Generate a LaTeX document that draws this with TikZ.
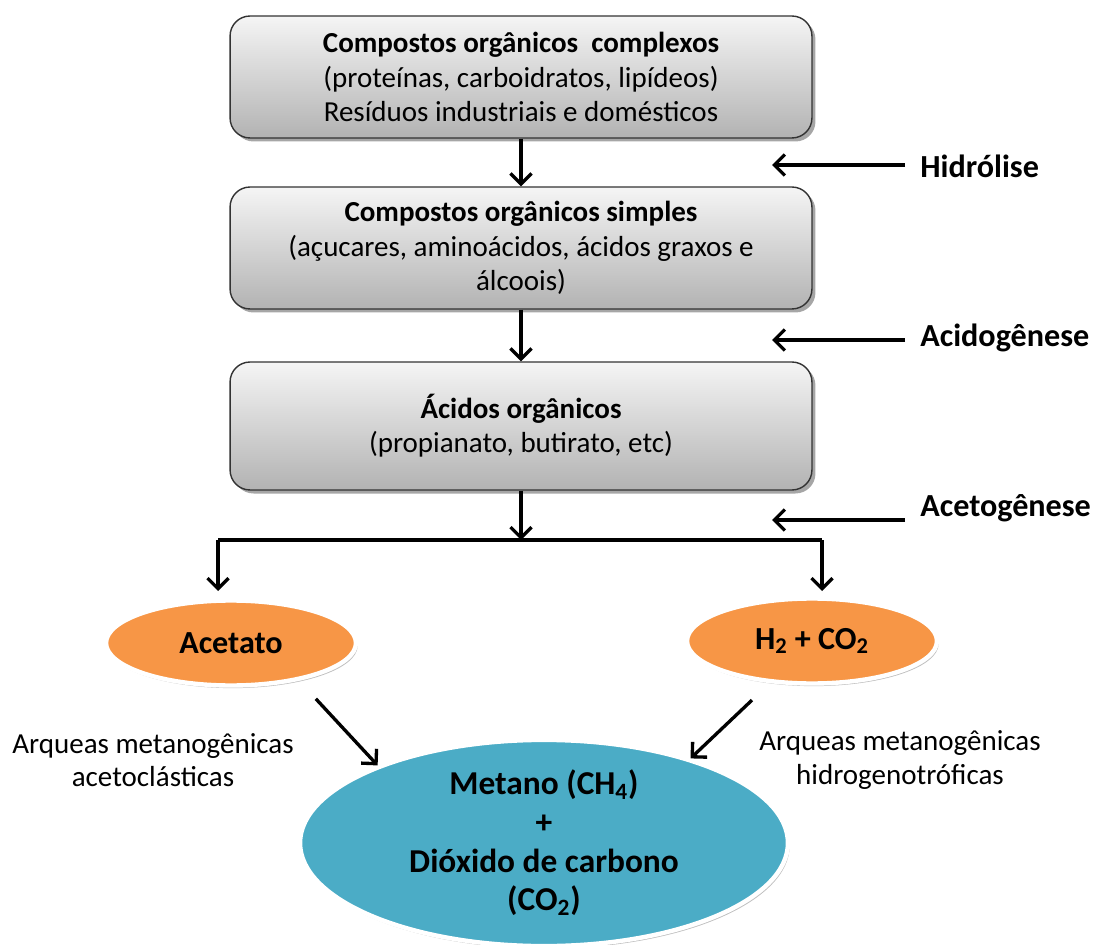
\documentclass[tikz,border=0pt]{standalone}
\usepackage{fontspec}
\setmainfont{Carlito}
\usetikzlibrary{arrows.meta,shadows,shapes.geometric}
\definecolor{laranja}{HTML}{F79646}
\definecolor{azul}{HTML}{4BACC6}
\tikzset{
  caixa/.style={draw=black!80, thick, rounded corners=0.4cm, top color=black!4, bottom color=black!30,
    minimum width=11.64cm, minimum height=2.44cm, align=center, font=\fontsize{16.5}{19.5}\selectfont,
    drop shadow={shadow xshift=2pt, shadow yshift=-2pt, opacity=0.35, fill=black}},
  elipse/.style={ellipse, fill=laranja, draw=white, line width=2.5pt, minimum width=5cm, minimum height=1.7cm,
    inner sep=0pt, align=center, font=\fontsize{18.3}{22}\selectfont\bfseries,
    drop shadow={shadow xshift=1pt, shadow yshift=-1.5pt, opacity=0.25, fill=black}},
  seta/.style={line width=1.9pt, -{Straight Barb[length=6pt,width=12pt]}},
  etapa/.style={anchor=base west, inner sep=0pt, font=\fontsize{18.3}{22}\selectfont\bfseries},
  legenda/.style={align=center, font=\fontsize{16.5}{19}\selectfont}
}
\begin{document}
\begin{tikzpicture}[x=0.02cm,y=-0.02cm]
  \useasboundingbox (0,0) rectangle (1095,945);
  % caixas
  \node[caixa] (comp) at (521,77) {\textbf{Compostos orgânicos\ \ complexos}\\(proteínas, carboidratos, lipídeos)\\Resíduos industriais e domésticos};
  \node[caixa] (simp) at (521,248) {\textbf{Compostos orgânicos simples}\\(açucares, aminoácidos, ácidos graxos e\\álcoois)};
  \node[caixa, minimum height=2.56cm] (acid) at (521,426) {\textbf{Ácidos orgânicos}\\(propianato, butirato, etc)};
  % elipses
  \node[elipse] (acet) at (231,643) {Acetato};
  \node[elipse] (hidr) at (812,641) {H\textsubscript{2} + CO\textsubscript{2}};
  \node[elipse, fill=azul, minimum width=9.76cm, minimum height=3.88cm, font=\fontsize{19}{22}\selectfont\bfseries] (meta) at (544,843)
    {Metano (CH\textsubscript{4})\\+\\Dióxido de carbono\\(CO\textsubscript{2})};
  % etapas
  \node[etapa] (hid) at (920,178) {Hidrólise};
  \node[etapa] (acg) at (920,347) {Acidogênese};
  \node[etapa] (atg) at (920,517) {Acetogênese};
  \node[legenda] (arq1) at (153,760) {Arqueas metanogênicas\\acetoclásticas};
  \node[legenda] (arq2) at (900,760) {Arqueas metanogênicas\\hidrogenotróficas};
  % setas
  \coordinate (sl) at (218,540);
  \coordinate (sr) at (822,540);
  \coordinate (tl) at (218,591);
  \coordinate (tr) at (822,591);
  \coordinate (h1) at (772,165);
  \coordinate (h2) at (772,340);
  \coordinate (h3) at (772,520);
  \draw[seta] (comp) -- (simp);
  \draw[seta] (simp) -- (acid);
  \draw[seta] (acid) -- (acid |- sl);
  \draw[line width=1.9pt] (sl) -- (sr);
  \draw[seta] (sl) -- (tl);
  \draw[seta] (sr) -- (tr);
  \draw[seta] (hid.west |- h1) ++(-15,0) -- (h1);
  \draw[seta] (acg.west |- h2) ++(-15,0) -- (h2);
  \draw[seta] (atg.west |- h3) ++(-15,0) -- (h3);
  \draw[seta, shorten <=14pt] (acet.-29) -- (meta.155);
  \draw[seta, shorten <=14pt] (hidr.-135) -- (meta.30);
\end{tikzpicture}
\end{document}
